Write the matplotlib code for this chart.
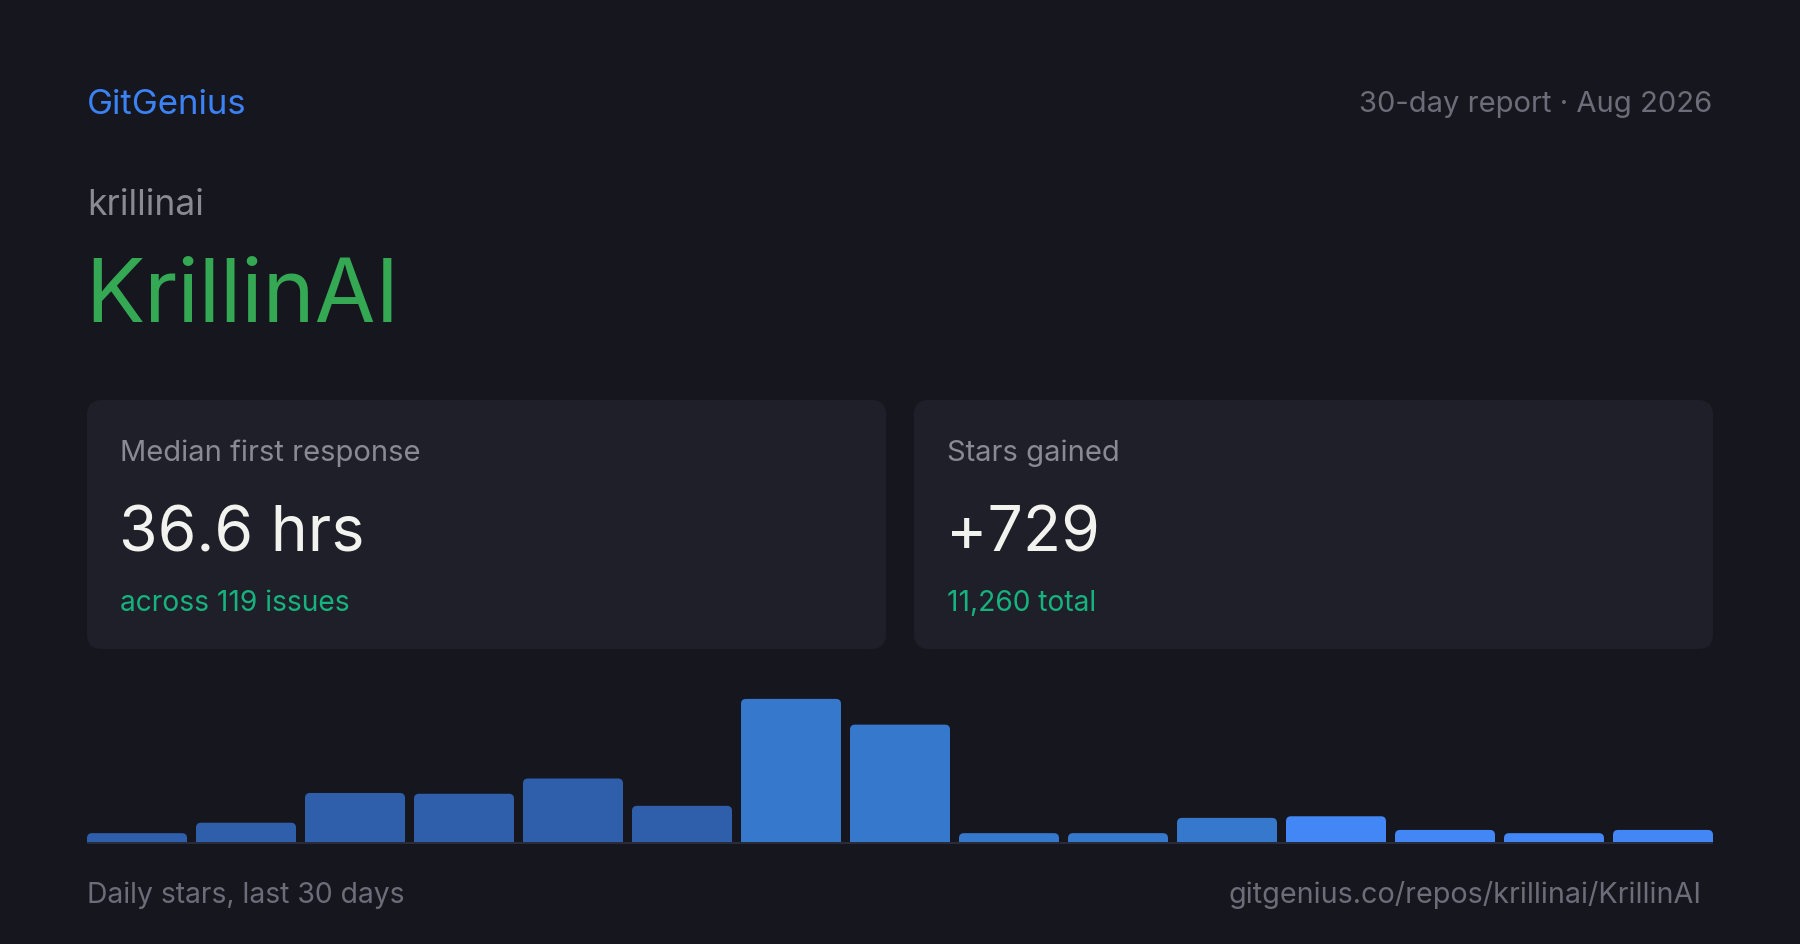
import matplotlib
matplotlib.use('Agg')
import matplotlib.pyplot as plt
from matplotlib.patches import FancyBboxPatch

plt.rcParams['font.family'] = ['Inter', 'DejaVu Sans']

brand = "GitGenius"
report_label = "30-day report · Aug 2026"
owner = "krillinai"
repo = "KrillinAI"
card_labels = ["Median first response", "Stars gained"]
card_values = ["36.6 hrs", "+729"]
card_notes = ["across 119 issues", "11,260 total"]
daily_stars = [11, 24, 61, 60, 79, 45, 178, 146, 11, 11, 30, 32, 15, 11, 15]
footer_left = "Daily stars, last 30 days"
footer_right = "gitgenius.co/repos/krillinai/KrillinAI"

W, H = 1800, 945
BG = '#16161f'
CARD = '#1f1f2a'
BLUE = '#3b82f6'
GREEN = '#34a853'
TEAL = '#17b37e'
GRAY = '#8a8a94'
DIM = '#6c6d78'
WHITE = '#f2f2ee'

fig = plt.figure(figsize=(W / 100, H / 100), dpi=100, facecolor=BG)

# background axes in pixel coordinates (y grows downwards)
bg = fig.add_axes([0, 0, 1, 1])
bg.set_xlim(0, W)
bg.set_ylim(H, 0)
bg.axis('off')

bg.text(87, 114, brand, color=BLUE, fontsize=25, va='baseline')
bg.text(1712, 112, report_label, color=DIM, fontsize=21, va='baseline', ha='right')
bg.text(87, 215, owner, color=GRAY, fontsize=25.5, va='baseline')
bg.text(85, 322, repo, color=GREEN, fontsize=63.5, va='baseline')

# the two stat cards
card_left = [87, 914]
for i in range(2):
    x0 = card_left[i]
    bg.add_patch(FancyBboxPatch((x0, 401), 799, 249,
                                boxstyle="round,pad=0,rounding_size=15",
                                facecolor=CARD, edgecolor='none'))
    bg.text(x0 + 33, 461, card_labels[i], color=GRAY, fontsize=21, va='baseline')
    bg.text(x0 + 32, 551, card_values[i], color=WHITE, fontsize=45, va='baseline')
    bg.text(x0 + 33, 611, card_notes[i], color=TEAL, fontsize=20.3, va='baseline')

# baseline under the bars
bg.plot([87, 1713], [844, 844], color='#2a2b38', linewidth=1.5, solid_capstyle='butt')

bg.text(87, 903, footer_left, color=DIM, fontsize=20.4, va='baseline')
bg.text(1701, 903, footer_right, color=DIM, fontsize=20.7, va='baseline', ha='right')

# bar chart
chart_h = 159
ax = fig.add_axes([87 / W, (H - 843) / H, 1626 / W, chart_h / H])
ax.set_facecolor('none')
ax.axis('off')
step, bar_w = 109, 100
ytop = max(daily_stars) / 0.9
ax.set_xlim(0, 1626)
ax.set_ylim(0, ytop)

xs = [i * step for i in range(len(daily_stars))]
bars = ax.bar(xs, daily_stars, width=bar_w, align='edge')

px_per_y = chart_h / ytop
r = 5
r_y = r / px_per_y
tier_colors = ['#2f5faa', '#3678cc', '#4287f5']
for i, b in enumerate(bars):
    b.set_visible(False)
    tier = 0 if i < 6 else (1 if i < 11 else 2)
    p = FancyBboxPatch((b.get_x(), -r_y), b.get_width(), b.get_height() + r_y,
                       boxstyle="round,pad=0,rounding_size=%g" % r,
                       mutation_aspect=1 / px_per_y,
                       facecolor=tier_colors[tier], edgecolor='none')
    ax.add_patch(p)

fig.savefig('out.png', dpi=100, facecolor=BG)
